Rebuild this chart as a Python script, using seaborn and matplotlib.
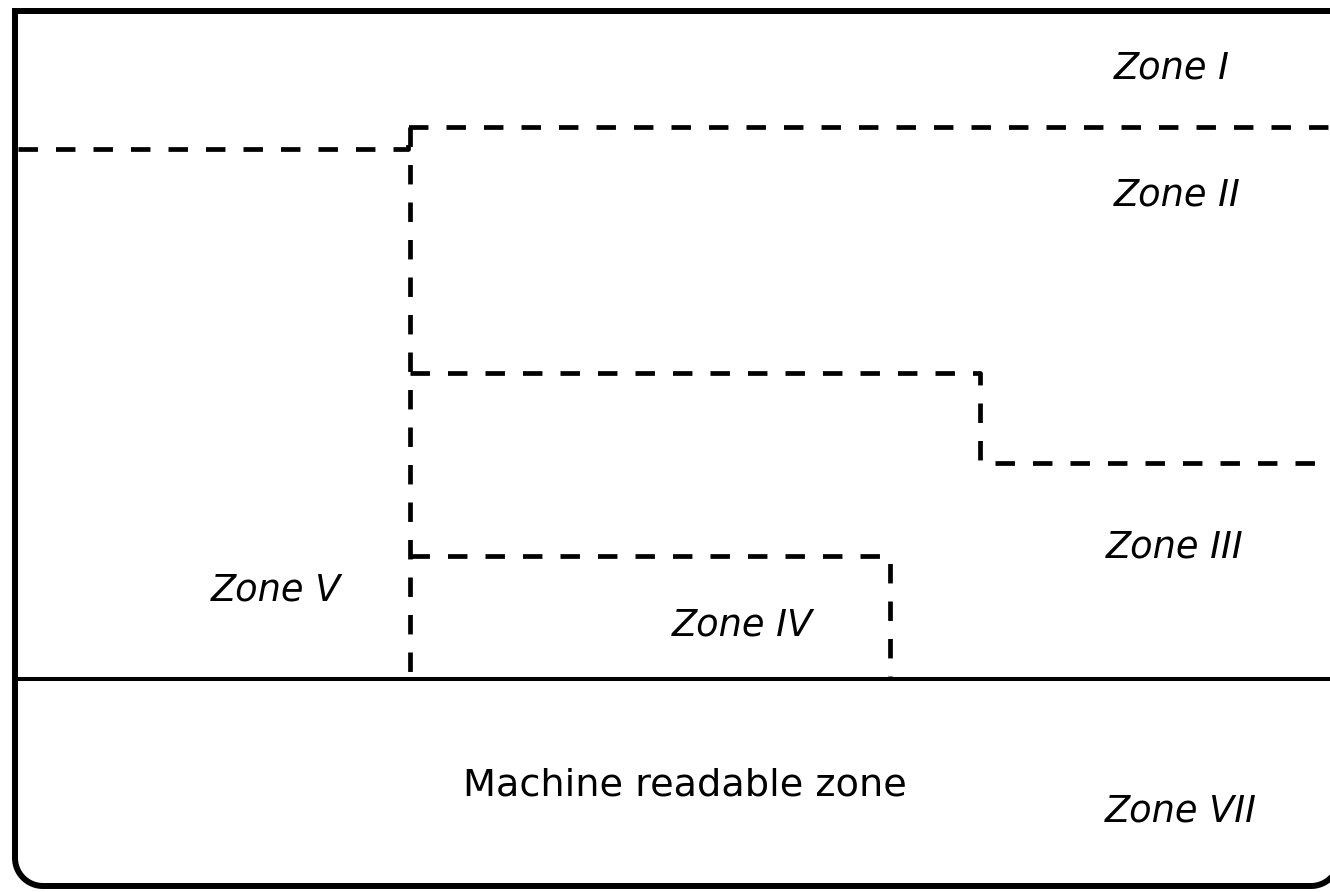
import numpy as np
import pandas as pd
import matplotlib
matplotlib.use("Agg")
import matplotlib.pyplot as plt
import seaborn as sns

# Zone labels and where they sit on the page (pixel-like units, y down)
zone_labels = ["Zone I", "Zone II", "Zone III", "Zone IV", "Zone V", "Zone VII"]
label_x = [1172, 1177, 1175, 742, 276, 1181]
label_y = [68, 195, 547, 625, 590, 811]

mrz_label = "Machine readable zone"
mrz_x = 685
mrz_y = 785

# Dashed zone boundaries (one polyline each)
bound_names = ["I/II", "V", "II/III", "IV"]
bound_x = [[18, 408, 408, 1330], [410, 410], [410, 980, 980, 1330], [410, 890, 890]]
bound_y = [[149, 149, 127, 127], [127, 678], [373, 373, 463, 463], [556, 556, 678]]

# Solid line above the machine readable zone
mrz_line_y = 679

# Outer card edge
card_left, card_right, card_top, card_bottom = 15, 1339, 11, 886
corner_r = 28

sns.set_theme(style="white")
plt.rcParams["lines.scale_dashes"] = False
plt.rcParams["font.family"] = ["DejaVu Sans"]

fig = plt.figure(figsize=(13.3, 8.92), dpi=100)
ax = fig.add_axes([0, 0, 1, 1])

# Build long-form table for the dashed boundaries
rows = []
for name, xs, ys in zip(bound_names, bound_x, bound_y):
    for i, (x, y) in enumerate(zip(xs, ys)):
        rows.append({"seg": name, "order": i, "x": x, "y": y})
bounds_df = pd.DataFrame(rows)

sns.lineplot(data=bounds_df, x="x", y="y", units="seg", estimator=None,
             sort=False, color="black", linewidth=3.4, ax=ax, legend=False)
for line in ax.lines:
    line.set_dashes((14, 13))
    line.set_solid_joinstyle("miter")

# Solid MRZ separator
ax.plot([card_left, card_right], [mrz_line_y, mrz_line_y], color="black", lw=2.9,
        solid_capstyle="butt")

# Card outline: square top-left, rounded bottom corners
t1 = np.linspace(np.pi, np.pi / 2, 20)
t2 = np.linspace(np.pi / 2, 0, 20)
fx = np.concatenate([[card_right + 20, card_left],
                     card_left + corner_r + corner_r * np.cos(t1),
                     card_right - corner_r + corner_r * np.cos(t2),
                     [card_right]])
fy = np.concatenate([[card_top, card_top],
                     card_bottom - corner_r + corner_r * np.sin(t1),
                     card_bottom - corner_r + corner_r * np.sin(t2),
                     [card_top]])
ax.plot(fx, fy, color="black", lw=4.3, solid_joinstyle="miter")

# Labels
for lab, x, y in zip(zone_labels, label_x, label_y):
    ax.text(x, y, lab, fontsize=26.5, style="italic", ha="center", va="center",
            color="black")
ax.text(mrz_x, mrz_y, mrz_label, fontsize=27.5, ha="center", va="center",
        color="black")

ax.set_xlim(0, 1330)
ax.set_ylim(892, 0)
ax.axis("off")

fig.savefig("out.png", dpi=100, facecolor="white")
